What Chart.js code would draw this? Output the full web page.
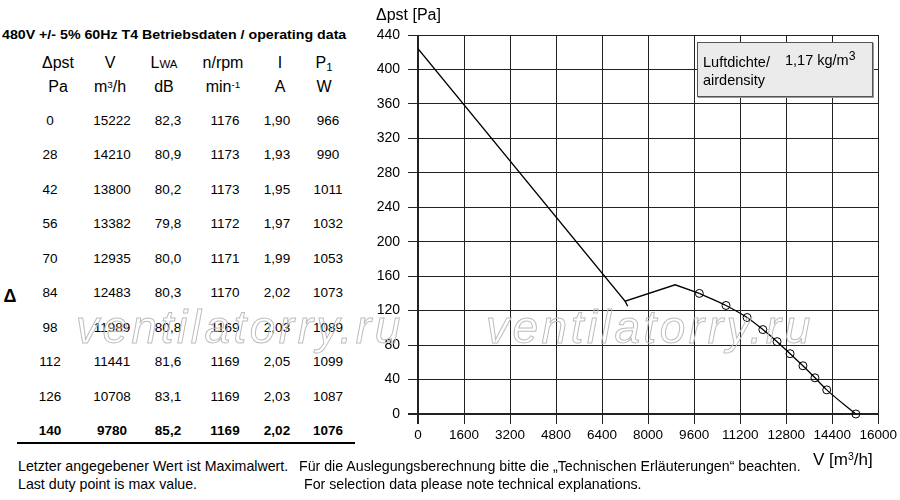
<!DOCTYPE html>
<html>
<head>
<meta charset="utf-8">
<script src="https://cdn.jsdelivr.net/npm/chart.js@4.4.1/dist/chart.umd.min.js"></script>
<style>
  body { margin: 0; width: 900px; height: 500px; background: #fff; position: relative; overflow: hidden;
         font-family: "Liberation Sans", Arial, sans-serif; color: #000; }
  .t { position: absolute; white-space: nowrap; line-height: 1; }
  .c { transform: translate(-50%, -50%); }
  #chart { position: absolute; left: 360px; top: 0; }
  sup { font-size: 0.62em; vertical-align: 0; position: relative; top: -0.45em; }
  .small { font-size: 0.72em; }
  .wm { position: absolute; font: italic 46px "Liberation Sans", Arial, sans-serif; letter-spacing: 3.5px;
        color: transparent; -webkit-text-stroke: 1px #bdbdbd; line-height: 1; white-space: nowrap; }
  #box { position: absolute; left: 697px; top: 42px; width: 174px; height: 53px; background: #ebebeb;
         border: 1px solid #555; box-shadow: 1px 1px 0 #999; }
</style>
</head>
<body>
<canvas id="chart" width="540" height="500"></canvas>
<div id="table"></div>

<div id="box"></div>
<div class="t" style="left:703px;top:55px;font-size:14.5px">Luftdichte/</div>
<div class="t" style="left:785px;top:53px;font-size:14.5px">1,17 kg/m<sup style="font-size:0.85em;top:-0.4em">3</sup></div>
<div class="t" style="left:703px;top:73px;font-size:14.5px">airdensity</div>

<div class="t" style="left:376px;top:7px;font-size:16px">&Delta;pst [Pa]</div>
<div class="t" style="left:813px;top:451px;font-size:17px">V [m<sup>3</sup>/h]</div>

<div class="t" style="left:18px;top:459px;font-size:14.2px">Letzter angegebener Wert ist Maximalwert.</div>
<div class="t" style="left:18px;top:477px;font-size:14.2px">Last duty point is max value.</div>
<div class="t" style="left:299px;top:459px;font-size:14.2px">Für die Auslegungsberechnung bitte die „Technischen Erläuterungen“ beachten.</div>
<div class="t" style="left:304px;top:477px;font-size:14.2px">For selection data please note technical explanations.</div>

<div class="wm" style="left:76px;top:304px">ventilatorry.ru</div>
<div class="wm" style="left:486px;top:304px">ventilatorry.ru</div>

<script>
// operating points (table and marked curve)
const pressure = [0, 28, 42, 56, 70, 84, 98, 112, 126, 140];
const flow = [15222, 14210, 13800, 13382, 12935, 12483, 11989, 11441, 10708, 9780];
const soundPower = [82.3, 80.9, 80.2, 79.8, 80.0, 80.3, 80.8, 81.6, 83.1, 85.2];
const speed = [1176, 1173, 1173, 1172, 1171, 1170, 1169, 1169, 1169, 1169];
const current = [1.90, 1.93, 1.95, 1.97, 1.99, 2.02, 2.03, 2.05, 2.03, 2.02];
const power = [966, 990, 1011, 1032, 1053, 1073, 1089, 1099, 1087, 1076];

// unstable part of the curve
const stallFlow = [0, 7200, 8940, 9780];
const stallPressure = [424, 131, 150, 140];
const hookFlow = [7200, 7290];
const hookPressure = [131, 125];

const flowTicks = [0, 1600, 3200, 4800, 6400, 8000, 9600, 11200, 12800, 14400, 16000];
const pressureTicks = [0, 40, 80, 120, 160, 200, 240, 280, 320, 360, 400, 440];

// ---- table on the left ----
const table = document.getElementById('table');
function put(html, x, y, size, bold) {
    const d = document.createElement('div');
    d.className = 't c';
    d.style.left = x + 'px';
    d.style.top = y + 'px';
    d.style.fontSize = size + 'px';
    if (bold) d.style.fontWeight = 'bold';
    d.innerHTML = html;
    table.appendChild(d);
    return d;
}

const title = document.createElement('div');
title.className = 't';
title.style.cssText = 'left:2px;top:29px;font-size:12.5px;font-weight:bold;transform-origin:0 0';
title.textContent = '480V  +/- 5% 60Hz T4 Betriebsdaten / operating data';
table.appendChild(title);
title.style.transform = 'scaleX(' + (344 / title.offsetWidth) + ')';

const headX = [58, 110, 164, 223, 280, 324];
const heads = ['&Delta;pst', 'V', 'L<span class="small">WA</span>', 'n/rpm', 'I', 'P<span class="small" style="position:relative;top:0.3em">1</span>'];
const units = ['Pa', 'm<sup>3</sup>/h', 'dB', 'min<sup>-1</sup>', 'A', 'W'];
heads.forEach((h, i) => put(h, headX[i], 63, 16, false));
units.forEach((u, i) => put(u, headX[i], 87, 16, false));

const colX = [50, 112, 168, 225, 277, 328];
pressure.forEach((p, i) => {
    const y = 120.5 + i * 34.5;
    const last = i === pressure.length - 1;
    const cells = [
        String(p),
        String(flow[i]),
        soundPower[i].toFixed(1).replace('.', ','),
        String(speed[i]),
        current[i].toFixed(2).replace('.', ','),
        String(power[i])
    ];
    cells.forEach((v, j) => put(v, colX[j], y, 13.5, last));
});
put('&Delta;', 10, 296, 18, true);

const rule = document.createElement('div');
rule.style.cssText = 'position:absolute;left:17px;top:442px;width:338px;height:2px;background:#000';
table.appendChild(rule);

// ---- chart ----
const font = { family: '"Liberation Sans", Arial, sans-serif' };
const mainCurve = flow.map((v, i) => ({ x: v, y: pressure[i] })).reverse();
const stallCurve = stallFlow.map((v, i) => ({ x: v, y: stallPressure[i] }));
const hook = hookFlow.map((v, i) => ({ x: v, y: hookPressure[i] }));

new Chart(document.getElementById('chart'), {
    type: 'line',
    data: {
        datasets: [{
            data: mainCurve,
            borderColor: '#000',
            borderWidth: 1.3,
            cubicInterpolationMode: 'monotone',
            pointRadius: 4,
            pointBorderWidth: 1,
            pointBorderColor: '#000',
            pointBackgroundColor: 'transparent',
            clip: false
        }, {
            data: stallCurve,
            borderColor: '#000',
            borderWidth: 1.3,
            pointRadius: 0,
            tension: 0
        }, {
            data: hook,
            borderColor: '#000',
            borderWidth: 1.3,
            pointRadius: 0,
            tension: 0
        }]
    },
    options: {
        responsive: false,
        animation: false,
        layout: { padding: { left: 0, right: 21, top: 35, bottom: 0 } },
        plugins: { legend: { display: false }, tooltip: { enabled: false } },
        scales: {
            x: {
                type: 'linear',
                min: 0,
                max: 16000,
                afterBuildTicks: function(scale) {
                    scale.ticks = flowTicks.map(v => ({ value: v }));
                },
                afterFit: function(scale) { scale.height = 86; },
                ticks: {
                    color: '#000',
                    font: { ...font, size: 13.5 },
                    padding: 3,
                    maxRotation: 0,
                    autoSkip: false,
                    callback: value => String(value)
                },
                grid: {
                    color: '#222',
                    tickColor: '#222',
                    tickLength: 10,
                    lineWidth: ctx => (ctx.tick && ctx.tick.value === 0 ? 2 : 1)
                },
                border: { display: false }
            },
            y: {
                min: 0,
                max: 440,
                afterBuildTicks: function(scale) {
                    scale.ticks = pressureTicks.map(v => ({ value: v }));
                },
                afterFit: function(scale) { scale.width = 58; },
                ticks: {
                    color: '#000',
                    font: { ...font, size: 14 },
                    padding: 8,
                    autoSkip: false,
                    callback: value => String(value)
                },
                grid: {
                    color: '#222',
                    tickColor: '#222',
                    tickLength: 10,
                    lineWidth: ctx => (ctx.tick && ctx.tick.value === 0 ? 2 : 1)
                },
                border: { display: false }
            }
        }
    }
});
</script>
</body>
</html>
